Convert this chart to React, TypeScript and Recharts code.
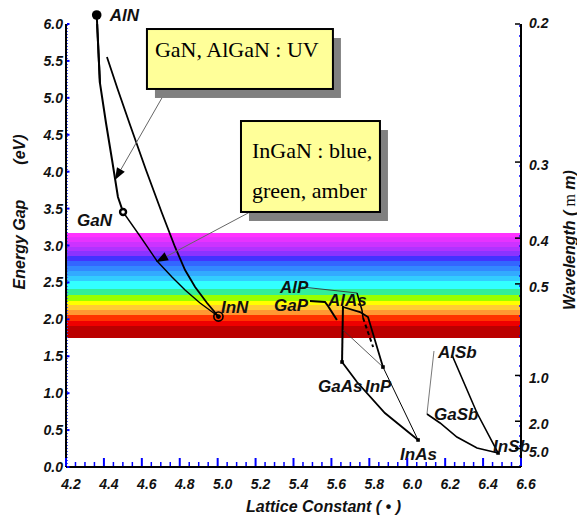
import React from 'react';
import {
  ComposedChart,
  Line,
  XAxis,
  YAxis,
  ReferenceArea,
  ReferenceLine,
  ReferenceDot,
} from 'recharts';

const FONT = '"Liberation Sans", Arial, Helvetica, sans-serif';
const SERIF = '"Liberation Serif", "Times New Roman", serif';

// ---- axis ticks ----
const xTickLabels = [4.2, 4.4, 4.6, 4.8, 5.0, 5.2, 5.4, 5.6, 5.8, 6.0, 6.2, 6.4, 6.6];
const yTickLabels = [0, 0.5, 1, 1.5, 2, 2.5, 3, 3.5, 4, 4.5, 5, 5.5, 6];
const wavelengthLabels = ['0.2', '0.3', '0.4', '0.5', '1.0', '2.0', '5.0'];
const wavelengthEnergies = [6.0, 4.13, 3.1, 2.48, 1.24, 0.62, 0.25];

const xAllTicks: number[] = [];
for (let i = 0; i < xTickLabels.length - 1; i++) {
  for (let k = 0; k < 4; k++) xAllTicks.push(Math.round((xTickLabels[i] + k * 0.05) * 100) / 100);
}
xAllTicks.push(xTickLabels[xTickLabels.length - 1]);

// ---- compounds (lattice constant, energy gap) ----
const compounds = [
  { name: 'AlN', x: 4.362, y: 6.122 },
  { name: 'GaN', x: 4.501, y: 3.454 },
  { name: 'InN', x: 5.004, y: 2.038 },
  { name: 'AlP', x: 5.445, y: 2.438 },
  { name: 'GaP', x: 5.487, y: 2.248 },
  { name: 'AlAs', x: 5.661, y: 2.181 },
  { name: 'GaAs', x: 5.656, y: 1.422 },
  { name: 'InP', x: 5.872, y: 1.354 },
  { name: 'InAs', x: 6.057, y: 0.366 },
  { name: 'AlSb', x: 6.141, y: 1.571 },
  { name: 'GaSb', x: 6.104, y: 0.718 },
  { name: 'InSb', x: 6.479, y: 0.19 },
];

// ---- alloy curves ----
const alnToGan = [
  { x: 4.362, y: 6.122 }, { x: 4.379, y: 5.201 }, { x: 4.411, y: 4.659 },
  { x: 4.443, y: 4.158 }, { x: 4.474, y: 3.657 }, { x: 4.501, y: 3.454 },
];
const alnToInn = [
  { x: 4.416, y: 5.553 }, { x: 4.474, y: 5.106 }, { x: 4.538, y: 4.632 },
  { x: 4.622, y: 4.023 }, { x: 4.706, y: 3.44 }, { x: 4.775, y: 2.98 },
  { x: 4.828, y: 2.668 }, { x: 4.881, y: 2.438 }, { x: 4.944, y: 2.221 },
  { x: 5.004, y: 2.038 },
];
const ganToInn = [
  { x: 4.501, y: 3.454 }, { x: 4.59, y: 3.129 }, { x: 4.68, y: 2.79 },
  { x: 4.759, y: 2.574 }, { x: 4.828, y: 2.397 }, { x: 4.907, y: 2.221 },
  { x: 5.004, y: 2.038 },
];
const alpToAlas = [{ x: 5.445, y: 2.438 }, { x: 5.735, y: 2.357 }];
const gapBranch = [{ x: 5.487, y: 2.248 }, { x: 5.566, y: 2.235 }, { x: 5.582, y: 2.181 }, { x: 5.629, y: 1.991 }];
const alasToGaas = [{ x: 5.661, y: 2.181 }, { x: 5.656, y: 1.422 }];
const alasToInp = [{ x: 5.661, y: 2.167 }, { x: 5.751, y: 2.099 }, { x: 5.793, y: 2.032 }, { x: 5.872, y: 1.354 }];
const alpBranch = [{ x: 5.735, y: 2.357 }, { x: 5.761, y: 2.127 }, { x: 5.767, y: 2.018 }];
const gaasToInp = [{ x: 5.661, y: 1.856 }, { x: 5.872, y: 1.354 }];
const dashedBranch = [{ x: 5.767, y: 2.018 }, { x: 5.82, y: 1.625 }];
const gaasToInas = [{ x: 5.656, y: 1.422 }, { x: 5.735, y: 1.151 }, { x: 5.882, y: 0.731 }, { x: 6.057, y: 0.366 }];
const inpToInas = [{ x: 5.872, y: 1.354 }, { x: 6.057, y: 0.366 }];
const alsbToGasb = [{ x: 6.141, y: 1.571 }, { x: 6.104, y: 0.718 }];
const alsbToInsb = [{ x: 6.236, y: 1.517 }, { x: 6.368, y: 0.731 }, { x: 6.479, y: 0.19 }];
const gasbToInsb = [
  { x: 6.104, y: 0.718 }, { x: 6.173, y: 0.596 }, { x: 6.262, y: 0.406 },
  { x: 6.368, y: 0.257 }, { x: 6.479, y: 0.19 },
];

// ---- visible spectrum band (energy, eV) ----
const spectrumTop = [3.169, 3.111, 3.048, 2.98, 2.926, 2.858, 2.79, 2.722, 2.655, 2.587, 2.519, 2.411, 2.33, 2.248, 2.194, 2.126, 2.059, 1.977, 1.91];
const spectrumColors = ['#FF33FF', '#E633FF', '#CC33FF', '#B033FF', '#8C33FF', '#4433FF', '#3366FF', '#3388FF', '#33AAFF', '#33CCFF', '#33FFFF', '#33EE99', '#99FF00', '#FFFF00', '#FFCC33', '#FF9933', '#FF3300', '#EE0000', '#BB0000'];
const spectrumBottom = 1.747;

// ---- callouts ----
const calloutText = [['GaN, AlGaN : UV'], ['InGaN : blue,', 'green, amber']];
const calloutBoxes = [
  { x1: 4.627, x2: 5.608, y1: 5.932, y2: 5.12 },
  { x1: 5.123, x2: 5.856, y1: 4.686, y2: 3.454 },
];
const calloutArrows = [
  { from: { x: 4.733, y: 5.12 }, to: { x: 4.458, y: 3.887 } },
  { from: { x: 5.171, y: 3.454 }, to: { x: 4.675, y: 2.777 } },
];

// ---- styling (kept out of data) ----
const curves: { data: { x: number; y: number }[]; w: number; c?: string; dash?: string }[] = [
  { data: alnToGan, w: 2 },
  { data: alnToInn, w: 1.8 },
  { data: ganToInn, w: 1.4 },
  { data: alpToAlas, w: 0.9, c: '#333' },
  { data: gapBranch, w: 2 },
  { data: alasToGaas, w: 2 },
  { data: alasToInp, w: 1.8 },
  { data: alpBranch, w: 1.5 },
  { data: gaasToInp, w: 0.8, c: '#333' },
  { data: dashedBranch, w: 2, dash: '4 3' },
  { data: gaasToInas, w: 1.8 },
  { data: inpToInas, w: 1 },
  { data: alsbToGasb, w: 0.8, c: '#555' },
  { data: alsbToInsb, w: 1.6 },
  { data: gasbToInsb, w: 1.6 },
];

const labelOffset: Record<string, [number, number]> = {
  AlN: [13, 6], GaN: [-46, 14], InN: [2.5, -3.5], AlP: [-22, 6], GaP: [-36, 10],
  AlAs: [-15, 0], GaAs: [-24, 30], InP: [-18, 25], InAs: [-18, 20], AlSb: [4, 7],
  GaSb: [7, 6], InSb: [-5, -1],
};

const tickFont: React.CSSProperties = { fontFamily: FONT, fontWeight: 700, fontStyle: 'italic', fontSize: 14, fill: '#111' };
const labelFont: React.CSSProperties = { fontFamily: FONT, fontWeight: 700, fontStyle: 'italic', fontSize: 17, fill: '#111' };
const titleFont: React.CSSProperties = { fontFamily: FONT, fontWeight: 700, fontStyle: 'italic', fontSize: 16, fill: '#111' };

const isMajorX = (v: number) => xTickLabels.some((t) => Math.abs(t - v) < 1e-6);

const BottomTick = (props: any) => {
  const { x, y, payload } = props;
  const v = payload.value;
  const major = isMajorX(v);
  return (
    <g>
      <line x1={x} x2={x} y1={y - 1} y2={y - (major ? 9 : 5)} stroke="#0000ff" strokeWidth={major ? 2 : 1.5} />
      {major && (
        <text x={x + 5} y={y + 22} textAnchor="middle" style={tickFont}>
          {v.toFixed(1)}
        </text>
      )}
    </g>
  );
};

const TopTick = (props: any) => {
  const { x, y, payload } = props;
  const major = isMajorX(payload.value);
  return <line x1={x} x2={x} y1={y + 1} y2={y + (major ? 6 : 4)} stroke="#0000ff" strokeWidth={major ? 2 : 1.5} />;
};

const LeftTick = (props: any) => {
  const { x, y, payload } = props;
  return (
    <g>
      <line x1={x + 1} x2={x + 3.5} y1={y} y2={y} stroke="#0000ff" strokeWidth={2} />
      <text x={x - 3} y={y + 5} textAnchor="end" style={tickFont}>
        {Number(payload.value).toFixed(1)}
      </text>
    </g>
  );
};

const RightTick = (props: any) => {
  const { x, y, payload } = props;
  const idx = wavelengthEnergies.findIndex((e) => Math.abs(e - payload.value) < 1e-6);
  return (
    <g>
      <line x1={x - 1} x2={x - 6} y1={y} y2={y} stroke="#000" strokeWidth={1.5} />
      <text x={x + 8} y={y + (idx === 0 ? 4 : 8)} textAnchor="start" style={tickFont}>
        {idx >= 0 ? wavelengthLabels[idx] : ''}
      </text>
    </g>
  );
};

const LeftTitle = (props: any) => {
  const vb = props.viewBox || { x: 0, y: 24, width: 66, height: 443 };
  const bx = vb.x + 24.5;
  return (
    <g>
      <text x={bx} y={244.5} textAnchor="middle" transform={`rotate(-90 ${bx} 244.5)`} style={titleFont}>
        Energy Gap
      </text>
      <text x={bx} y={149.5} textAnchor="middle" transform={`rotate(-90 ${bx} 149.5)`} style={titleFont}>
        (eV)
      </text>
    </g>
  );
};

const RightTitle = (props: any) => {
  const vb = props.viewBox || { x: 521, y: 24, width: 56, height: 443 };
  const bx = vb.x + 53.5;
  return (
    <text x={bx} y={240} textAnchor="middle" transform={`rotate(-90 ${bx} 240)`} style={titleFont}>
      Wavelength (
      <tspan style={{ fontFamily: SERIF, fontStyle: 'normal', fontWeight: 400 }}> m</tspan> m)
    </text>
  );
};

const BottomTitle = (props: any) => {
  const vb = props.viewBox || { x: 66, y: 467, width: 455, height: 49 };
  const cx = vb.x + vb.width / 2 + 30;
  return (
    <text x={cx} y={vb.y + 45} textAnchor="middle" style={titleFont}>
      Lattice Constant ( • )
    </text>
  );
};

const ArrowShape = (p: any) => {
  const { x1, y1, x2, y2 } = p;
  if (x1 == null) return null;
  const ang = Math.atan2(y2 - y1, x2 - x1);
  const L = 12;
  const W = 4.5;
  const bx = x2 - L * Math.cos(ang);
  const by = y2 - L * Math.sin(ang);
  const px = -Math.sin(ang) * W;
  const py = Math.cos(ang) * W;
  return (
    <g>
      <line x1={x1} y1={y1} x2={bx} y2={by} stroke="#666" strokeWidth={1} />
      <polygon points={`${x2},${y2} ${bx + px},${by + py} ${bx - px},${by - py}`} fill="#000" />
    </g>
  );
};

const makeBoxShape = (i: number) => (p: any) => {
  const { x, y, width, height } = p;
  if (x == null) return null;
  const lines = calloutText[i];
  const padX = i === 0 ? 8 : 11;
  const first = i === 0 ? 28 : 37;
  const gap = 40;
  return (
    <g>
      <rect x={x + 8} y={y + 9} width={width} height={height} fill="#808080" />
      <rect x={x} y={y} width={width} height={height} fill="#FFFF99" stroke="#000" strokeWidth={2} />
      {lines.map((t, k) => (
        <text key={k} x={x + padX} y={y + first + k * gap} style={{ fontFamily: SERIF, fontSize: 22, fill: '#000' }}>
          {t}
        </text>
      ))}
    </g>
  );
};

const makeCompoundShape = (name: string) => (p: any) => {
  const { cx, cy } = p;
  if (cx == null) return null;
  const [dx, dy] = labelOffset[name];
  let marker: React.ReactNode = null;
  if (name === 'AlN') marker = <circle cx={cx} cy={cy} r={4.8} fill="#000" />;
  else if (name === 'GaN') marker = <circle cx={cx} cy={cy} r={3} fill="#fff" stroke="#000" strokeWidth={2.4} />;
  else if (name === 'InN')
    marker = (
      <g>
        <circle cx={cx} cy={cy} r={4.6} fill="none" stroke="#000" strokeWidth={1.6} />
        <circle cx={cx} cy={cy} r={2.4} fill="#000" />
      </g>
    );
  else if (['GaAs', 'InP', 'InAs', 'InSb'].includes(name))
    marker = <rect x={cx - 1.8} y={cy - 1.8} width={3.6} height={3.6} fill="#000" />;
  return (
    <g>
      {marker}
      <text x={cx + dx} y={cy + dy} style={labelFont}>
        {name}
      </text>
    </g>
  );
};

export default function App() {
  return (
    <div style={{ position: 'absolute', left: 0, top: 0, width: 577, height: 516, background: '#fff' }}>
      <ComposedChart width={577} height={516} margin={{ top: 24, right: 0, bottom: 0, left: 0 }}>
        <XAxis
          type="number"
          dataKey="x"
          domain={[4.2, 6.6]}
          allowDataOverflow
          ticks={xAllTicks}
          interval={0}
          height={49}
          tickSize={0}
          tickMargin={0}
          tickLine={false}
          axisLine={{ stroke: '#000', strokeWidth: 2 }}
          tick={<BottomTick />}
          label={BottomTitle}
        />
        <XAxis
          xAxisId="t"
          orientation="top"
          type="number"
          dataKey="x"
          domain={[4.2, 6.6]}
          allowDataOverflow
          ticks={xAllTicks}
          interval={0}
          height={0}
          tickSize={0}
          tickMargin={0}
          tickLine={false}
          axisLine={{ stroke: '#000', strokeWidth: 2 }}
          tick={<TopTick />}
        />
        <YAxis
          type="number"
          domain={[0, 6]}
          allowDataOverflow
          ticks={yTickLabels}
          interval={0}
          width={66}
          tickSize={0}
          tickMargin={0}
          tickLine={false}
          axisLine={{ stroke: '#000', strokeWidth: 2 }}
          tick={<LeftTick />}
          label={LeftTitle}
        />
        <YAxis
          yAxisId="r"
          orientation="right"
          type="number"
          domain={[0, 6]}
          allowDataOverflow
          ticks={wavelengthEnergies}
          interval={0}
          width={56}
          tickSize={0}
          tickMargin={0}
          tickLine={false}
          axisLine={{ stroke: '#000', strokeWidth: 2 }}
          tick={<RightTick />}
          label={RightTitle}
        />

        {spectrumTop.map((top, i) => (
          <ReferenceArea
            key={`band-${i}`}
            x1={4.2}
            x2={6.6}
            y1={spectrumBottom}
            y2={top}
            fill={spectrumColors[i]}
            fillOpacity={1}
            stroke="none"
            ifOverflow="hidden"
            zIndex={50}
          />
        ))}

        <ReferenceLine x={4.208} stroke="#4455ff" strokeDasharray="1 2" strokeWidth={1} zIndex={60} />
        <ReferenceLine x={6.5948} stroke="#0000ff" strokeDasharray="2 8" strokeWidth={1.5} zIndex={60} />

        {curves.map((c, i) => (
          <Line
            key={`curve-${i}`}
            data={c.data}
            dataKey="y"
            type="linear"
            stroke={c.c || '#000'}
            strokeWidth={c.w}
            strokeDasharray={c.dash}
            dot={false}
            activeDot={false}
            isAnimationActive={false}
            legendType="none"
          />
        ))}
        <ReferenceLine
          segment={[alnToGan[0], alnToGan[1]]}
          stroke="#000"
          strokeWidth={2}
          ifOverflow="visible"
          zIndex={410}
        />

        {calloutArrows.map((a, i) => (
          <ReferenceLine key={`arrow-${i}`} segment={[a.from, a.to]} shape={ArrowShape} ifOverflow="visible" zIndex={420} />
        ))}

        {calloutBoxes.map((b, i) => (
          <ReferenceArea
            key={`box-${i}`}
            x1={b.x1}
            x2={b.x2}
            y1={b.y2}
            y2={b.y1}
            shape={makeBoxShape(i)}
            ifOverflow="visible"
            zIndex={450}
          />
        ))}

        {compounds.map((c) => (
          <ReferenceDot
            key={c.name}
            x={c.x}
            y={c.y}
            r={0}
            ifOverflow="visible"
            shape={makeCompoundShape(c.name)}
            zIndex={600}
          />
        ))}
      </ComposedChart>
    </div>
  );
}
